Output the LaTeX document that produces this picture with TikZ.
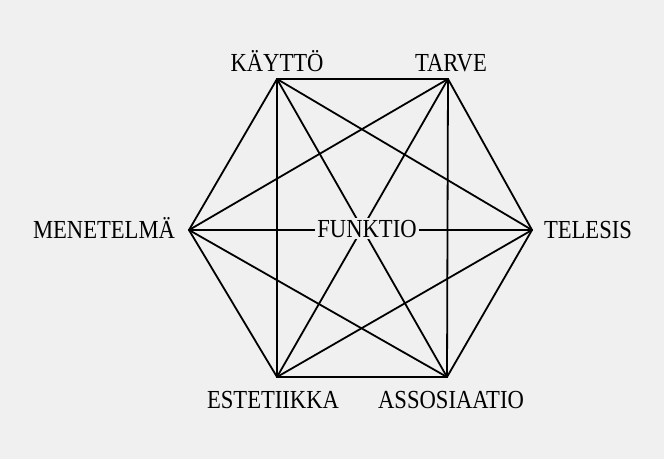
\documentclass[tikz,border=0pt]{standalone}
\usepackage{fontspec}
\setmainfont{Liberation Serif}[FakeStretch=0.87]
\usepackage{tikz}
\usetikzlibrary{positioning}
\definecolor{paper}{RGB}{240,240,240}
\tikzset{
  lbl/.style={font=\fontsize{26}{30}\selectfont, inner sep=1pt, anchor=base},
  edge/.style={line width=1.8pt, line cap=round}
}

\begin{document}
\begin{tikzpicture}[x=1pt, y=1pt]
    \fill[paper] (0,0) rectangle (664,459);
    \useasboundingbox (0,0) rectangle (664,459);

    % corners of the hexagon
    \coordinate (kaytto) at (277,380);
    \coordinate (tarve) at (448,380);
    \coordinate (telesis) at (532,229);
    \coordinate (assos) at (447,82);
    \coordinate (estet) at (277,82);
    \coordinate (menet) at (189,229);

    % every corner joined to every other
    \foreach \a/\b in {kaytto/tarve, kaytto/telesis, kaytto/assos, kaytto/estet, kaytto/menet,
                       tarve/telesis, tarve/assos, tarve/estet, tarve/menet,
                       telesis/assos, telesis/estet, telesis/menet,
                       assos/estet, assos/menet, estet/menet} {
      \draw[edge] (\a) -- (\b);
    }

    \node[lbl] (kaytto-lbl) at (277,388) {KÄYTTÖ};
    \node[lbl] (tarve-lbl) at (451,388) {TARVE};
    \node[lbl] (telesis-lbl) at (588,221) {TELESIS};
    \node[lbl] (assos-lbl) at (451,51) {ASSOSIAATIO};
    \node[lbl] (estet-lbl) at (273,51) {ESTETIIKKA};
    \node[lbl] (menet-lbl) at (104,221) {MENETELMÄ};

    \node[lbl, fill=paper, inner sep=2pt] (funktio) at (367,222) {FUNKTIO};
\end{tikzpicture}
\end{document}
